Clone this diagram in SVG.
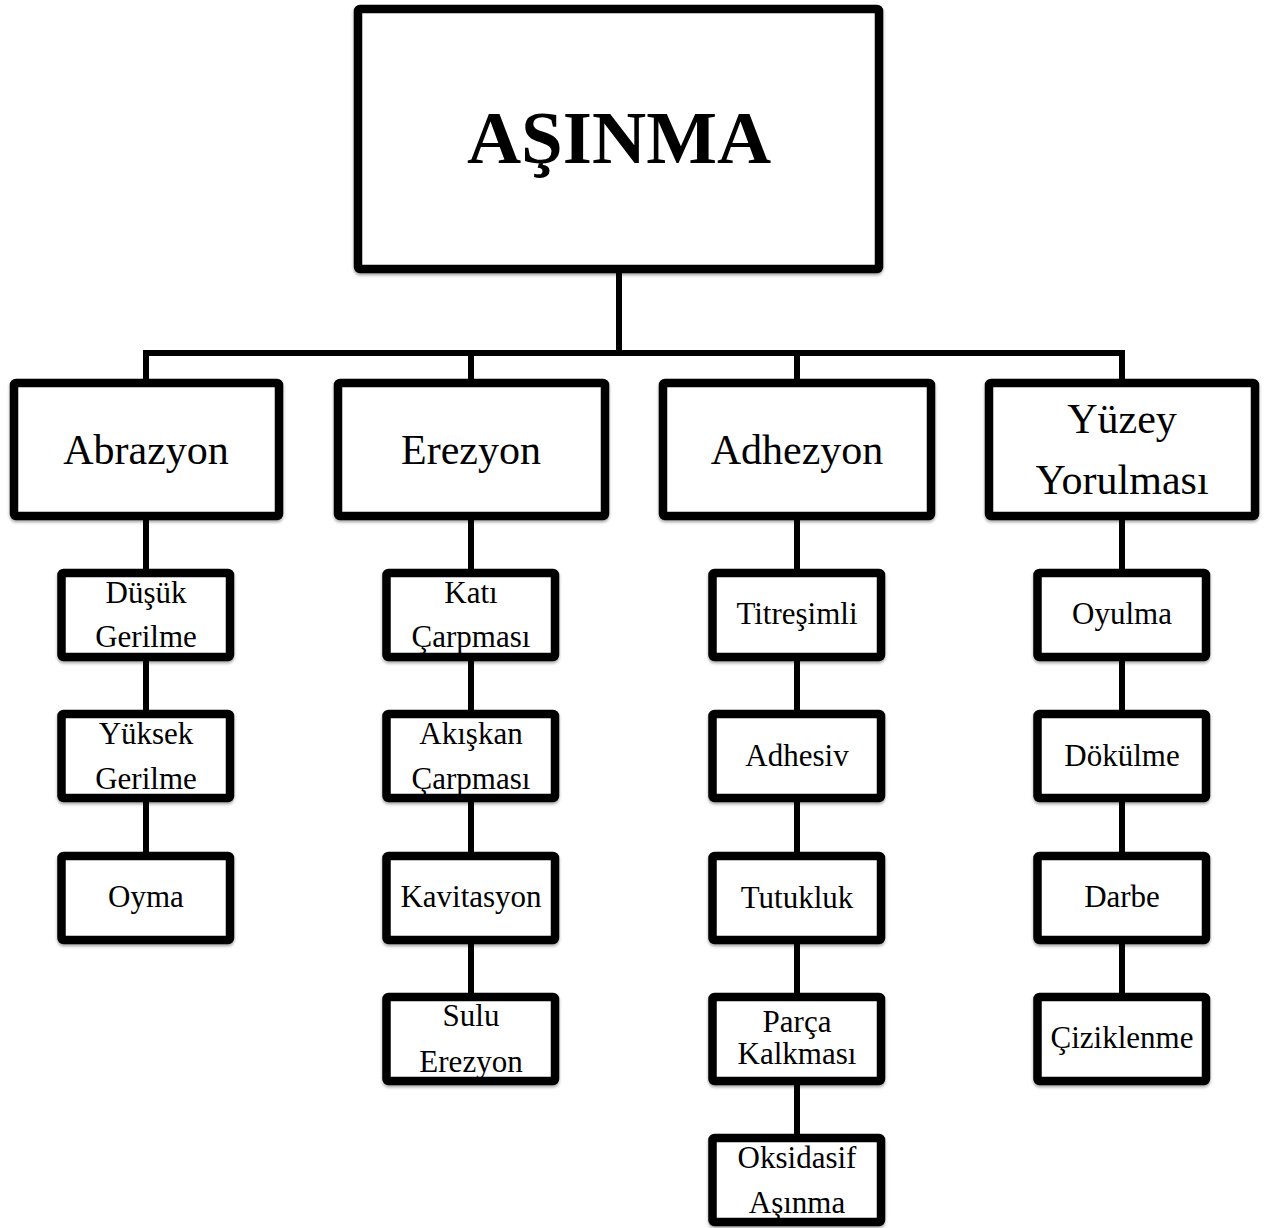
<svg xmlns="http://www.w3.org/2000/svg" width="1264" height="1228" viewBox="0 0 1264 1228">
<style>
.box{fill:#fff;stroke:#000;stroke-width:8.5;stroke-linejoin:round}
.sh{filter:url(#sh)}
.t{font-family:"Liberation Serif","Times New Roman",serif;fill:#000;text-anchor:middle}
.t0{font-size:75px;font-weight:bold}
.t1{font-size:42px}
.t2{font-size:31px}
.ln{stroke:#000;stroke-width:6;fill:none}
</style>
<defs>
<filter id="sh" x="-10%" y="-10%" width="120%" height="130%">
<feDropShadow dx="0" dy="2" stdDeviation="1.5" flood-color="#000" flood-opacity="0.35"/>
</filter>
</defs>
<rect width="1264" height="1228" fill="#fff"/>
<g id="connectors">
<line class="ln" x1="619" y1="270" x2="619" y2="353"/>
<line class="ln" x1="146" y1="353" x2="1122" y2="353"/>
<line class="ln" x1="146" y1="350" x2="146" y2="383"/>
<line class="ln" x1="471" y1="353" x2="471" y2="383"/>
<line class="ln" x1="797" y1="353" x2="797" y2="383"/>
<line class="ln" x1="1122" y1="350" x2="1122" y2="383"/>
<line class="ln" x1="146" y1="516" x2="146" y2="856"/>
<line class="ln" x1="471" y1="516" x2="471" y2="997"/>
<line class="ln" x1="797" y1="516" x2="797" y2="1138"/>
<line class="ln" x1="1122" y1="516" x2="1122" y2="997"/>
</g>
<g id="asinma"><rect class="box sh" x="358" y="9" width="521" height="260" rx="2"/><text class="t t0" x="619" y="163">AŞINMA</text></g>
<g id="abrazyon"><rect class="box sh" x="14" y="383" width="265" height="133" rx="2"/><text class="t t1" x="146" y="464">Abrazyon</text></g>
<g id="erezyon"><rect class="box sh" x="338" y="383" width="267" height="133" rx="2"/><text class="t t1" x="471" y="464">Erezyon</text></g>
<g id="adhezyon"><rect class="box sh" x="663" y="383" width="268" height="133" rx="2"/><text class="t t1" x="797" y="464">Adhezyon</text></g>
<g id="yuzey"><rect class="box sh" x="989" y="383" width="266" height="133" rx="2"/><text class="t t1" x="1122" y="433">Yüzey</text><text class="t t1" x="1122" y="494">Yorulması</text></g>

<g id="dusuk"><rect class="box sh" x="61.5" y="573" width="168.5" height="84" rx="2"/><text class="t t2" x="146" y="603">Düşük</text><text class="t t2" x="146" y="647">Gerilme</text></g>
<g id="yuksek"><rect class="box sh" x="61.5" y="714" width="168.5" height="84" rx="2"/><text class="t t2" x="146" y="744">Yüksek</text><text class="t t2" x="146" y="789">Gerilme</text></g>
<g id="oyma"><rect class="box sh" x="61.5" y="856" width="168.5" height="84" rx="2"/><text class="t t2" x="146" y="907">Oyma</text></g>

<g id="kati"><rect class="box sh" x="386.5" y="573" width="168.5" height="84" rx="2"/><text class="t t2" x="471" y="603">Katı</text><text class="t t2" x="471" y="647">Çarpması</text></g>
<g id="akiskan"><rect class="box sh" x="386.5" y="714" width="168.5" height="84" rx="2"/><text class="t t2" x="471" y="744">Akışkan</text><text class="t t2" x="471" y="789">Çarpması</text></g>
<g id="kavitasyon"><rect class="box sh" x="386.5" y="856" width="168.5" height="84" rx="2"/><text class="t t2" x="471" y="907">Kavitasyon</text></g>
<g id="sulu"><rect class="box sh" x="386.5" y="997" width="168.5" height="84" rx="2"/><text class="t t2" x="471" y="1026">Sulu</text><text class="t t2" x="471" y="1072">Erezyon</text></g>

<g id="titresimli"><rect class="box sh" x="712.5" y="573" width="168.5" height="84" rx="2"/><text class="t t2" x="797" y="624">Titreşimli</text></g>
<g id="adhesiv"><rect class="box sh" x="712.5" y="714" width="168.5" height="84" rx="2"/><text class="t t2" x="797" y="766">Adhesiv</text></g>
<g id="tutukluk"><rect class="box sh" x="712.5" y="856" width="168.5" height="84" rx="2"/><text class="t t2" x="797" y="908">Tutukluk</text></g>
<g id="parca"><rect class="box sh" x="712.5" y="997" width="168.5" height="84" rx="2"/><text class="t t2" x="797" y="1032">Parça</text><text class="t t2" x="797" y="1064">Kalkması</text></g>
<g id="oksidasif"><rect class="box sh" x="712.5" y="1138" width="168.5" height="84" rx="2"/><text class="t t2" x="797" y="1168">Oksidasif</text><text class="t t2" x="797" y="1213">Aşınma</text></g>

<g id="oyulma"><rect class="box sh" x="1037.5" y="573" width="168.5" height="84" rx="2"/><text class="t t2" x="1122" y="624">Oyulma</text></g>
<g id="dokulme"><rect class="box sh" x="1037.5" y="714" width="168.5" height="84" rx="2"/><text class="t t2" x="1122" y="766">Dökülme</text></g>
<g id="darbe"><rect class="box sh" x="1037.5" y="856" width="168.5" height="84" rx="2"/><text class="t t2" x="1122" y="907">Darbe</text></g>
<g id="ciziklenme"><rect class="box sh" x="1037.5" y="997" width="168.5" height="84" rx="2"/><text class="t t2" x="1122" y="1048">Çiziklenme</text></g>
</svg>
